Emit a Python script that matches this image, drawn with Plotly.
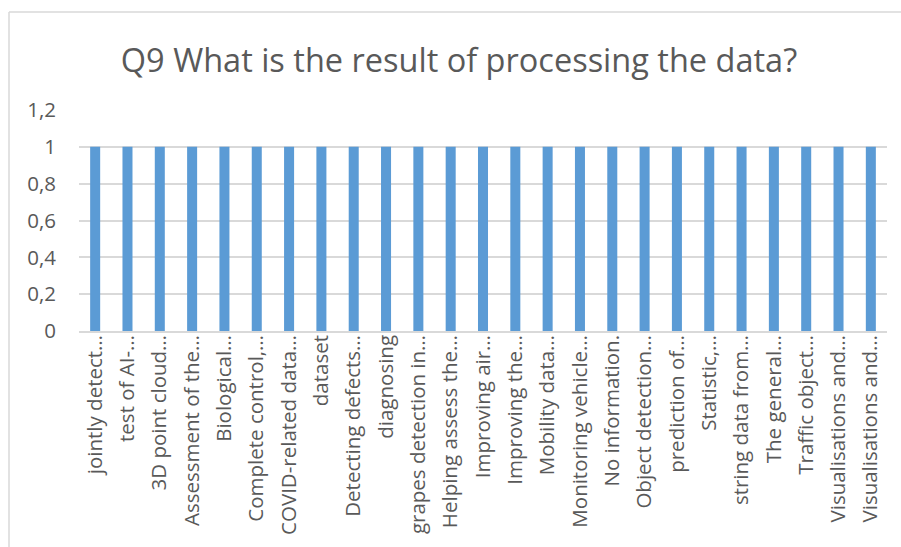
import plotly.graph_objects as go

# Category labels (as truncated in the chart) and their counts
categories = [
    "jointly detect…", "test of AI-…", "3D point cloud…", "Assessment of the…",
    "Biological…", "Complete control,…", "COVID-related data…", "dataset",
    "Detecting defects…", "diagnosing", "grapes detection in…", "Helping assess the…",
    "Improving air…", "Improving the…", "Mobility data…", "Monitoring vehicle…",
    "No information.", "Object detection…", "prediction of…", "Statistic,…",
    "string data from…", "The general…", "Traffic object…", "Visualisations and…",
    "Visualisations and…",
]
counts = [1] * len(categories)
y_ticks = [0, 0.2, 0.4, 0.6, 0.8, 1.0, 1.2]

positions = list(range(len(categories)))

FONT = "Open Sans"
GREY = "#595959"
LINE = "#d9d9d9"

fig = go.Figure(
    go.Bar(
        x=positions,
        y=counts,
        marker=dict(color="#5b9bd5", line=dict(width=0)),
        hoverinfo="x+y",
    )
)

L, R, T, B = 79, 14, 110, 214
W, H = 901, 547
pw, ph = W - L - R, H - T - B

fig.update_layout(
    width=W,
    height=H,
    margin=dict(l=L, r=R, t=T, b=B, pad=0),
    paper_bgcolor="white",
    plot_bgcolor="white",
    separators=",.",
    bargap=0.69,
    showlegend=False,
    title=dict(
        text="Q9 What is the result of processing the data?",
        x=459 / W,
        xanchor="center",
        y=1 - 61 / H,
        yanchor="middle",
        font=dict(family=FONT, size=32.5, color=GREY),
    ),
    font=dict(family=FONT, color=GREY),
    xaxis=dict(
        tickmode="array",
        tickvals=positions,
        ticktext=categories,
        tickangle=-90,
        range=[-0.5, len(categories) - 0.5],
        showgrid=False,
        showline=True,
        linecolor=LINE,
        linewidth=1.5,
        ticks="",
        ticklen=0,
        ticklabelstandoff=-6,
        tickfont=dict(family=FONT, size=20.5, color=GREY),
        fixedrange=True,
    ),
    yaxis=dict(
        range=[0, 1.2],
        tickvals=y_ticks,
        showgrid=True,
        gridcolor=LINE,
        gridwidth=1.5,
        zeroline=False,
        showline=False,
        ticks="",
        ticklabelstandoff=22,
        tickfont=dict(family=FONT, size=20.5, color=GREY),
        fixedrange=True,
    ),
    shapes=[
        # chart frame: top edge and left edge
        dict(type="line", xref="paper", yref="paper",
             x0=(9 - L) / pw, x1=(W - L) / pw + 0.01,
             y0=(H - B - 11) / ph, y1=(H - B - 11) / ph,
             line=dict(color=LINE, width=1.5)),
        dict(type="line", xref="paper", yref="paper",
             x0=(9 - L) / pw, x1=(9 - L) / pw,
             y0=(H - B - 11) / ph, y1=-(B + 5) / ph,
             line=dict(color=LINE, width=1.5)),
    ],
)

fig.write_html("out.html")
